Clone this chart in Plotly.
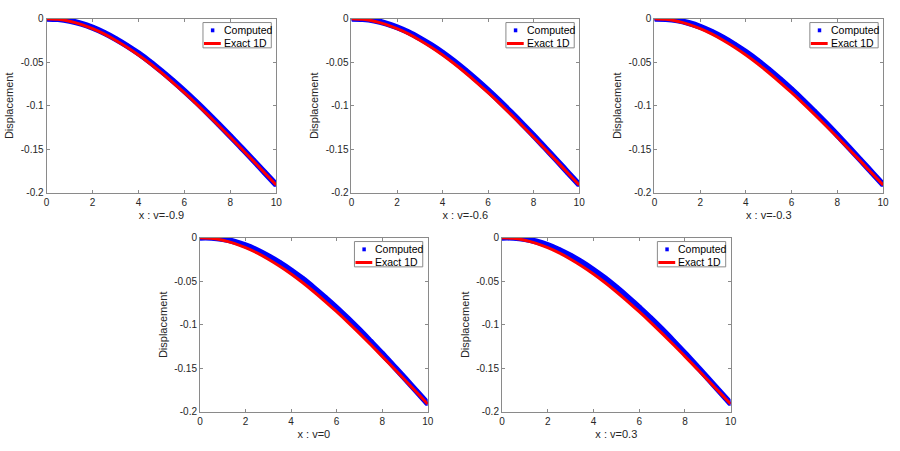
import plotly.graph_objects as go

# ---- data ----
x_vals = [0, 0.5, 1, 1.5, 2, 2.5, 3, 3.5, 4, 4.5, 5, 5.5, 6, 6.5, 7, 7.5, 8, 8.5, 9, 9.5, 10]

exact_1d = [0, -0.0008, -0.0030, -0.0066, -0.0115, -0.0175, -0.0247, -0.0328, -0.0417, -0.0515,
            -0.0621, -0.0733, -0.0850, -0.0972, -0.1099, -0.1229, -0.1362, -0.1497, -0.1633, -0.1772, -0.1910]

computed_v_m09 = [0, -0.0005, -0.0024, -0.0057, -0.0103, -0.0161, -0.0231, -0.0310, -0.0398, -0.0495,
                  -0.0601, -0.0713, -0.0830, -0.0953, -0.1081, -0.1213, -0.1348, -0.1486, -0.1625, -0.1767, -0.1908]
computed_v_m06 = [0, -0.0004, -0.0022, -0.0053, -0.0098, -0.0155, -0.0225, -0.0303, -0.0390, -0.0487,
                  -0.0593, -0.0705, -0.0822, -0.0945, -0.1074, -0.1207, -0.1342, -0.1482, -0.1622, -0.1765, -0.1907]
computed_v_m03 = [0, -0.0003, -0.0019, -0.0050, -0.0093, -0.0150, -0.0218, -0.0296, -0.0383, -0.0479,
                  -0.0585, -0.0697, -0.0814, -0.0938, -0.1067, -0.1200, -0.1337, -0.1477, -0.1619, -0.1763, -0.1906]
computed_v_0 = [0, -0.0001, -0.0017, -0.0046, -0.0089, -0.0144, -0.0212, -0.0288, -0.0375, -0.0471,
                -0.0577, -0.0689, -0.0806, -0.0930, -0.1059, -0.1194, -0.1331, -0.1473, -0.1615, -0.1761, -0.1906]
computed_v_03 = [0, -0.0001, -0.0015, -0.0044, -0.0085, -0.0140, -0.0207, -0.0283, -0.0370, -0.0465,
                 -0.0571, -0.0683, -0.0800, -0.0925, -0.1054, -0.1189, -0.1327, -0.1470, -0.1613, -0.1760, -0.1905]

panel_labels = ["x : v=-0.9", "x : v=-0.6", "x : v=-0.3", "x : v=0", "x : v=0.3"]
series_names = ["Computed", "Exact 1D"]
y_label = "Displacement"
x_ticks = [0, 2, 4, 6, 8, 10]
y_ticks = [0, -0.05, -0.1, -0.15, -0.2]
y_tick_text = ["0", "-0.05", "-0.1", "-0.15", "-0.2"]

computed_all = [computed_v_m09, computed_v_m06, computed_v_m03, computed_v_0, computed_v_03]

# ---- layout geometry (pixels in a 900x451 page) ----
W, H = 900, 451
x_px = [(44, 276), (352, 582), (658, 889), (199, 429), (504, 735)]
y_px = [(13, 192), (13, 192), (13, 192), (238, 417), (238, 417)]

FONT = "Liberation Sans, Arial, Helvetica, sans-serif"
AX_COL = "#8a8a8a"
TXT_COL = "#262626"
BLUE = "#0000ff"
RED = "#ff0000"


def px(x):
    return x / W


def py(y):
    return 1 - y / H


fig = go.Figure()
layout = dict(
    width=W, height=H, margin=dict(l=0, r=0, t=0, b=0),
    paper_bgcolor="white", plot_bgcolor="white",
    font=dict(family=FONT, color=TXT_COL), showlegend=False,
)
shapes = []
annotations = []

for i in range(5):
    sfx = "" if i == 0 else str(i + 1)
    xa, ya = "x" + sfx, "y" + sfx
    comp = computed_all[i]
    fig.add_trace(go.Scatter(x=x_vals, y=comp, mode="lines",
                             line=dict(color=BLUE, width=6, shape="spline"),
                             xaxis=xa, yaxis=ya, cliponaxis=False, hoverinfo="skip"))
    fig.add_trace(go.Scatter(x=x_vals, y=comp, mode="markers", name=series_names[0],
                             marker=dict(symbol="square", size=4, color=BLUE),
                             xaxis=xa, yaxis=ya, cliponaxis=True))
    fig.add_trace(go.Scatter(x=x_vals, y=exact_1d, mode="lines", name=series_names[1],
                             line=dict(color=RED, width=3, shape="spline"),
                             xaxis=xa, yaxis=ya, cliponaxis=False))

    x0, x1 = x_px[i]
    y0, y1 = y_px[i]
    layout["xaxis" + sfx] = dict(
        domain=[x0 / W, x1 / W], anchor=ya, range=[0, 10], tickvals=x_ticks,
        ticks="inside", ticklen=3, tickcolor=AX_COL, mirror="ticks", showline=True,
        linecolor=AX_COL, linewidth=1, showgrid=False, zeroline=False,
        tickfont=dict(size=10, color=TXT_COL, family=FONT),
        title=dict(text=panel_labels[i], font=dict(size=11, color=TXT_COL, family=FONT), standoff=4),
    )
    layout["yaxis" + sfx] = dict(
        domain=[(H - y1) / H, (H - y0) / H], anchor=xa, range=[-0.2, 0],
        tickvals=y_ticks, ticktext=y_tick_text,
        ticks="inside", ticklen=3, tickcolor=AX_COL, mirror="ticks", showline=True,
        linecolor=AX_COL, linewidth=1, showgrid=False, zeroline=False,
        tickfont=dict(size=10, color=TXT_COL, family=FONT),
        title=dict(text=y_label, font=dict(size=11, color=TXT_COL, family=FONT), standoff=4),
    )

    # compact MATLAB-style legend box in the top-right corner of the panel
    R, T = x1, y0
    shapes.append(dict(type="rect", xref="paper", yref="paper",
                       x0=px(R - 74), x1=px(R - 5), y0=py(T + 30), y1=py(T + 4),
                       line=dict(color=AX_COL, width=1), fillcolor="white", layer="above"))
    shapes.append(dict(type="rect", xref="paper", yref="paper",
                       x0=px(R - 66), x1=px(R - 62.5), y0=py(T + 14), y1=py(T + 10),
                       line=dict(width=0), fillcolor=BLUE, layer="above"))
    shapes.append(dict(type="line", xref="paper", yref="paper",
                       x0=px(R - 73), x1=px(R - 56), y0=py(T + 25.5), y1=py(T + 25.5),
                       line=dict(color=RED, width=3), layer="above"))
    for name, ty in zip(series_names, (T + 12, T + 25)):
        annotations.append(dict(text=name, xref="paper", yref="paper",
                                x=px(R - 55), y=py(ty), xanchor="left", yanchor="middle",
                                showarrow=False, font=dict(size=10.5, color="black", family=FONT)))

layout["shapes"] = shapes
layout["annotations"] = annotations
fig.update_layout(**layout)
fig.write_html("out.html")
